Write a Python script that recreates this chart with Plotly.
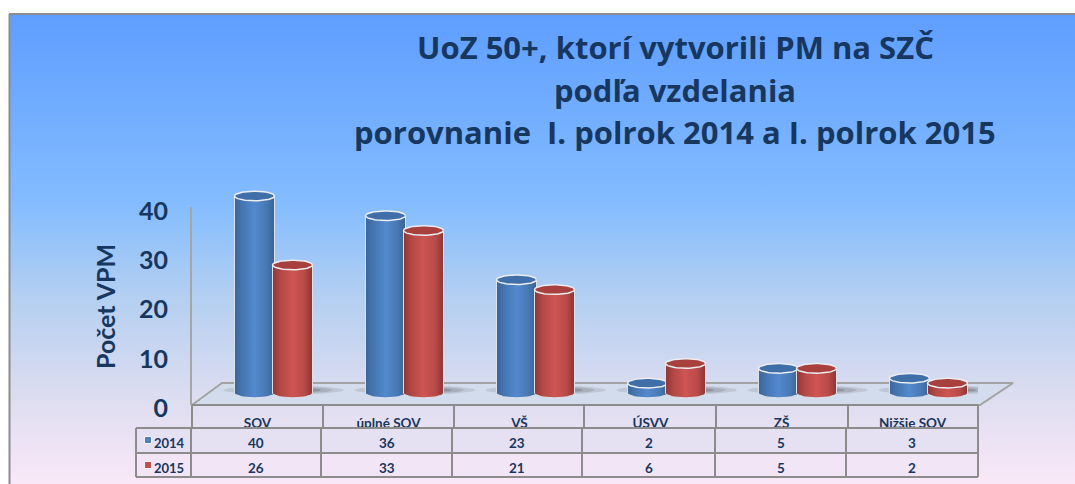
import numpy as np
import plotly.graph_objects as go

categories = ["SOV", "úplné SOV", "VŠ", "ÚSVV", "ZŠ", "Nižšie SOV"]
series_names = ["2014", "2015"]
values_2014 = [40, 36, 23, 2, 5, 3]
values_2015 = [26, 33, 21, 6, 5, 2]
y_ticks = [0, 10, 20, 30, 40]
title_lines = ["UoZ 50+, ktorí vytvorili PM na SZČ", "podľa vzdelania",
               "porovnanie  I. polrok 2014 a I. polrok 2015"]
y_title = "Počet VPM"

W, H = 1075, 484
NAVY = "#17375E"
GRID = "#8C8C8C"
FONT = "Lato"
TITLE_FONT = "Open Sans"

# pixel geometry of the drawing
X0, X1 = 192.0, 978.0
Y_ZERO = 405.0
PX_U_Y = (405.0 - 208.0) / 40.0
Y_MAX = 46.0
Y_TOP = Y_ZERO - Y_MAX * PX_U_Y
PX_U_X = (X1 - X0) / 6.0
BASE = (Y_ZERO - 393.0) / PX_U_Y
HALF_W = 20.0 / PX_U_X
ELL_H = 4.8 / PX_U_Y
OFFS = [-3.0 / PX_U_X, 35.0 / PX_U_X]

def px(x): return x / W
def py(y): return 1 - y / H
def bgx(x): return (x - 9.0) / (W - 9.0)
def bgy(y): return (H - y) / (H - 14.0)

fig = go.Figure()

# background gradient panel on its own axes
fig.add_trace(go.Scatter(
    x=[0, 1, 1, 0, 0], y=[0, 0, 1, 1, 0], mode="lines", line=dict(width=0),
    fill="toself", hoverinfo="skip", showlegend=False,
    fillgradient=dict(type="vertical", colorscale=[
        [0.00, "#F9E8F8"], [0.18, "#DEDDF0"], [0.40, "#B3CFF1"],
        [0.60, "#83BCFF"], [0.78, "#73AEFF"], [1.00, "#5E9EFF"]]),
    xaxis="x", yaxis="y"))

# chart floor
floor_px = [(192, 405), (222, 383), (1013, 383), (980, 405), (192, 405)]
fig.add_trace(go.Scatter(
    x=[bgx(p[0]) for p in floor_px], y=[bgy(p[1]) for p in floor_px], mode="lines",
    line=dict(color="#A3A3A3", width=2), fill="toself", fillcolor="#D3DCEC",
    hoverinfo="skip", showlegend=False, xaxis="x", yaxis="y"))

centers = np.arange(6) + 0.5
T = np.linspace(0, np.pi, 30)
A = np.linspace(0, 2 * np.pi, 60)

# floor shadows
for c in centers:
    for scale, alpha in [(1.0, 0.14), (0.82, 0.18), (0.62, 0.26)]:
        xs = c + 0.20 + scale * 0.46 * np.cos(A)
        ys = BASE + 0.6 + scale * 0.9 * np.sin(A)
        fig.add_trace(go.Scatter(x=xs, y=ys, mode="lines", line=dict(width=0), fill="toself",
                                 fillcolor=f"rgba(70,70,80,{alpha})", hoverinfo="skip",
                                 showlegend=False, xaxis="x2", yaxis="y2", cliponaxis=False))

palette = [
    dict(solid="#4F81BD", top="#3F6EA8", scale=[[0, "#3A659A"], [0.2, "#4676B2"], [0.5, "#5389CE"], [0.8, "#4878B4"], [1, "#38628F"]]),
    dict(solid="#C0504D", top="#A8403E", scale=[[0, "#8F3735"], [0.2, "#B24846"], [0.5, "#CE5553"], [0.8, "#B84A48"], [1, "#8C3533"]]),
]

for s, (name, vals) in enumerate(zip(series_names, [values_2014, values_2015])):
    p = palette[s]
    xpos = [c + OFFS[s] for c in centers]
    # real bars through the axis scale
    fig.add_trace(go.Bar(x=xpos, y=vals, base=BASE, width=2 * HALF_W, name=name,
                         marker=dict(color=p["solid"], line=dict(width=0)),
                         xaxis="x2", yaxis="y2", cliponaxis=False, showlegend=False))
    for x, v in zip(xpos, vals):
        top = BASE + v
        # cylinder body: up the left side, across the top, down the right, arc along the bottom
        bx = np.concatenate([[x - HALF_W], x - HALF_W * np.cos(T), x + HALF_W * np.cos(T)])
        by = np.concatenate([[BASE], top + 0 * T, BASE - ELL_H * np.sin(T)])
        fig.add_trace(go.Scatter(x=bx, y=by, mode="lines", line=dict(color="#DDE1EA", width=1),
                                 fill="toself", hoverinfo="skip", showlegend=False,
                                 fillgradient=dict(type="horizontal", colorscale=p["scale"]),
                                 xaxis="x2", yaxis="y2", cliponaxis=False))
        # top ellipse
        fig.add_trace(go.Scatter(x=x + HALF_W * np.cos(A), y=top + ELL_H * np.sin(A),
                                 mode="lines", line=dict(color="#ECEDF0", width=1.5),
                                 fill="toself", fillcolor=p["top"], hoverinfo="skip",
                                 showlegend=False, xaxis="x2", yaxis="y2", cliponaxis=False))

shapes = []
def seg(x0, y0, x1, y1, w=2, color=GRID):
    shapes.append(dict(type="line", xref="paper", yref="paper", x0=px(x0), y0=py(y0), x1=px(x1), y1=py(y1),
                       line=dict(color=color, width=w), layer="above"))

# frame
seg(9, 14, W, 14)
seg(9.5, 14, 9.5, H)
# value axis line
seg(191, 207, 191, 405, color="#A6A6A6")

# patches that clip category labels at the top table row
shapes.append(dict(type="rect", xref="paper", yref="paper", x0=px(136), x1=px(978), y0=py(428), y1=py(453),
                   fillcolor="#E5E1F2", line=dict(width=0), layer="above"))
shapes.append(dict(type="rect", xref="paper", yref="paper", x0=px(136), x1=px(978), y0=py(453), y1=py(477),
                   fillcolor="#F2E5F5", line=dict(width=0), layer="above"))

# upper category cells
seg(192, 405, 978, 405)
for xv in [192, 323, 454, 584, 716, 848, 978]:
    seg(xv, 405, xv, 428)
# table grid
for yv in [428, 453, 477]:
    seg(136, yv, 978, yv)
for xv in [136, 191, 321, 452, 582, 715, 846, 978]:
    seg(xv, 428, xv, 477)

# legend keys
for yc, col in zip([440, 465], [palette[0]["solid"], palette[1]["solid"]]):
    shapes.append(dict(type="rect", xref="paper", yref="paper", x0=px(144.5), x1=px(151.5), y0=py(yc - 3.5), y1=py(yc + 3.5),
                       fillcolor=col, line=dict(color="#F4F4F8", width=1), layer="above"))

annotations = []
def note(text, x, y, size, family=FONT, angle=0):
    annotations.append(dict(text=text, xref="paper", yref="paper", x=px(x), y=py(y), showarrow=False,
                            xanchor="center", yanchor="middle", textangle=angle,
                            font=dict(family=family, size=size, color=NAVY, weight="bold")))

for line, yv in zip(title_lines, [47, 90, 132]):
    note(line, 675, yv, 31, family=TITLE_FONT)
note(y_title, 105, 307, 25, angle=-90)

col_mid = [256, 386.5, 517, 648.5, 780.5, 912]
for lab, yv, vals in zip(series_names, [442.5, 467.5], [values_2014, values_2015]):
    note(lab, 169, yv, 13)
    for xm, v in zip(col_mid, vals):
        note(str(v), xm, yv, 13.5)

fig.update_layout(
    width=W, height=H, margin=dict(l=0, r=0, t=0, b=0, pad=0), autosize=False,
    paper_bgcolor="white", plot_bgcolor="rgba(0,0,0,0)",
    barmode="overlay", bargap=0, hovermode=False,
    shapes=shapes, annotations=annotations, showlegend=False,
    font=dict(family=FONT, color=NAVY),
    xaxis=dict(domain=[px(9), 1], range=[0, 1], visible=False, fixedrange=True, automargin=False),
    yaxis=dict(domain=[0, py(14)], range=[0, 1], visible=False, fixedrange=True, automargin=False),
    xaxis2=dict(domain=[px(X0), px(X1)], range=[0, 6], anchor="y2", showgrid=False, zeroline=False,
                showline=False, tickmode="array", tickvals=list(centers), ticktext=categories,
                ticks="", ticklabelstandoff=8, fixedrange=True, automargin=False,
                tickfont=dict(family=FONT, size=13.5, color=NAVY, weight="bold")),
    yaxis2=dict(domain=[py(Y_ZERO), py(Y_TOP)], range=[0, Y_MAX], anchor="x2", showgrid=False, zeroline=False,
                showline=False, tickmode="array", tickvals=y_ticks,
                ticks="", ticklabelstandoff=23, ticklabelshift=3, fixedrange=True, automargin=False,
                tickfont=dict(family=FONT, size=25, color=NAVY, weight="bold")),
)

fig.write_html("out.html", post_script="document.body.style.margin='0';", config=dict(displayModeBar=False))
